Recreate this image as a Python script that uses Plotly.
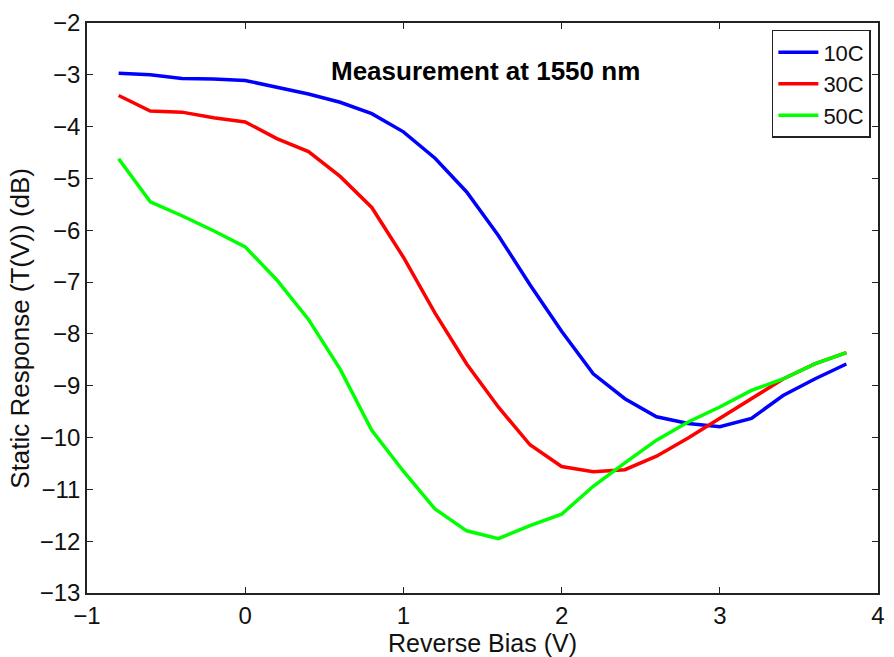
import plotly.graph_objects as go

bias = [-0.8, -0.6, -0.4, -0.2, 0.0, 0.2, 0.4, 0.6, 0.8, 1.0, 1.2, 1.4,
        1.6, 1.8, 2.0, 2.2, 2.4, 2.6, 2.8, 3.0, 3.2, 3.4, 3.6, 3.8]
r10 = [-2.97, -3.00, -3.07, -3.08, -3.11, -3.24, -3.37, -3.53, -3.75, -4.10, -4.61, -5.26,
       -6.10, -7.05, -7.95, -8.77, -9.25, -9.60, -9.73, -9.79, -9.63, -9.19, -8.87, -8.58]
r30 = [-3.40, -3.70, -3.72, -3.83, -3.91, -4.23, -4.48, -4.96, -5.56, -6.52, -7.60, -8.58,
       -9.41, -10.14, -10.56, -10.66, -10.62, -10.36, -10.01, -9.63, -9.25, -8.87, -8.58, -8.36]
r50 = [-4.62, -5.45, -5.72, -6.01, -6.32, -6.96, -7.72, -8.68, -9.86, -10.65, -11.38, -11.80,
       -11.95, -11.70, -11.48, -10.94, -10.49, -10.05, -9.70, -9.41, -9.09, -8.87, -8.58, -8.36]
names = ["10C", "30C", "50C"]
colors = ["#0000ff", "#ff0000", "#00ff00"]

FONT = "Liberation Sans, Arial"

fig = go.Figure()
for name, ys, c in zip(names, [r10, r30, r50], colors):
    fig.add_trace(go.Scatter(x=bias, y=ys, mode="lines", name=name,
                             line=dict(color=c, width=3.5)))

axis_common = dict(showgrid=False, zeroline=False, showline=True, linecolor="#222",
                   linewidth=1.5, mirror="ticks", ticks="inside", ticklen=6,
                   tickcolor="#222", tickfont=dict(family=FONT, size=24, color="#111"))
fig.update_xaxes(range=[-1, 4], dtick=1,
                 title=dict(text="Reverse Bias (V)", font=dict(family=FONT, size=25, color="#111"), standoff=0),
                 **axis_common)
fig.update_yaxes(range=[-13, -2], dtick=1, **axis_common)

fig.add_annotation(text="Static Response (T(V)) (dB)", textangle=-90,
                   x=-0.085, y=0.465, xref="paper", yref="paper", xanchor="center", yanchor="middle",
                   showarrow=False, font=dict(family=FONT, size=26, color="#111"))

fig.add_annotation(text="<b>Measurement at 1550 nm</b>", x=1.52, y=-2.92, xref="x", yref="y",
                   showarrow=False, font=dict(family=FONT, size=26, color="#000"))

fig.update_layout(
    width=894, height=657,
    margin=dict(l=87, r=9, t=17, b=64),
    plot_bgcolor="white", paper_bgcolor="white",
    legend=dict(x=0.991, y=0.988, xanchor="right", yanchor="top",
                bordercolor="#222", borderwidth=1.5, bgcolor="white",
                font=dict(family=FONT, size=22, color="#111"),
                tracegroupgap=0, itemwidth=40),
)

fig.write_html("out.html")
